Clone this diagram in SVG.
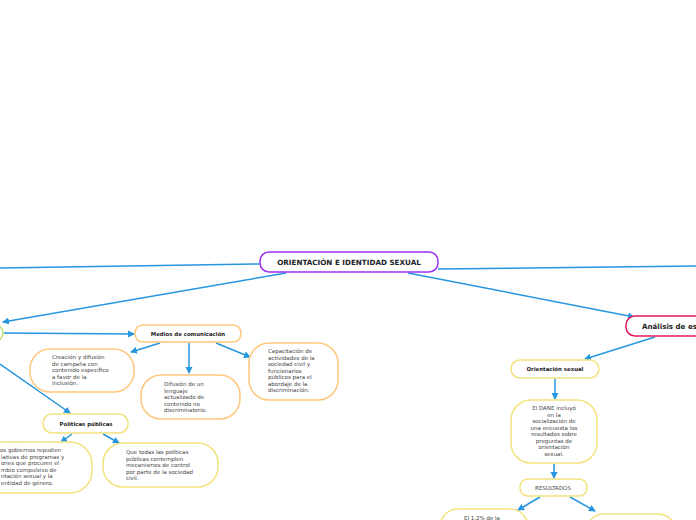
<svg xmlns="http://www.w3.org/2000/svg" width="696" height="520" viewBox="0 0 696 520">
<style>
.n{fill:#fff;stroke-width:1.5}
.pu{stroke:#9b30f2}
.or{stroke:#ffc77e}
.ye{stroke:#f2e27d}
.gr{stroke:#b8e26c}
.pk{stroke:#e3195b}
.t{font-family:"DejaVu Sans",Verdana,sans-serif;font-size:5.5px;fill:#444}
.b{font-family:"DejaVu Sans",Verdana,sans-serif;font-weight:bold;fill:#222}
.c{text-anchor:middle}
.con path{fill:none;stroke:#2596df;stroke-width:1.5}
</style>
<defs>
<marker id="ar" markerUnits="userSpaceOnUse" markerWidth="8" markerHeight="8" refX="6" refY="3.5" orient="auto">
<path d="M0,0 L7,3.5 L0,7 z" fill="#2596df"/>
</marker>
</defs>
<rect width="696" height="520" fill="#fff"/>
<g class="con">
<path d="M260,264 L0,268"/>
<path d="M438,269 L696,266"/>
<path d="M286,273 L3,322" marker-end="url(#ar)"/>
<path d="M408,273 L634,317" marker-end="url(#ar)"/>
<path d="M4,333 L134,334" marker-end="url(#ar)"/>
<path d="M160,343 L131,352" marker-end="url(#ar)"/>
<path d="M189,343 L189,373" marker-end="url(#ar)"/>
<path d="M216,343 L250,357" marker-end="url(#ar)"/>
<path d="M0,364 L70,413" marker-end="url(#ar)"/>
<path d="M72,434 L61,442" marker-end="url(#ar)"/>
<path d="M103,434 L119,443" marker-end="url(#ar)"/>
<path d="M655,337 L585,359" marker-end="url(#ar)"/>
<path d="M555,379 L555,399" marker-end="url(#ar)"/>
<path d="M554,464 L554,478" marker-end="url(#ar)"/>
<path d="M540,497 L518,510" marker-end="url(#ar)"/>
<path d="M570,497 L595,511" marker-end="url(#ar)"/>
</g>
<g id="main">
<rect class="n pu" x="260" y="252" width="178" height="20" rx="9"/>
<text class="b c" x="349" y="265" font-size="7.2">ORIENTACIÓN E IDENTIDAD SEXUAL</text>
</g>
<g id="green">
<rect class="n gr" x="-40" y="325" width="43" height="16" rx="8"/>
</g>
<g id="medios">
<rect class="n or" x="135" y="325" width="106" height="17" rx="8"/>
<text class="b c" x="188" y="336" font-size="5.4">Medios de comunicación</text>
</g>
<g id="creacion">
<rect class="n or" x="30" y="349" width="104" height="43" rx="20"/>
<text class="t" x="52" y="359">Creación y difusión<tspan x="52" dy="6.6">de campaña con</tspan><tspan x="52" dy="6.6">contenido específico</tspan><tspan x="52" dy="6.6">a favor de la</tspan><tspan x="52" dy="6.6">inclusión.</tspan></text>
</g>
<g id="difusion">
<rect class="n or" x="141" y="375" width="99" height="44" rx="20"/>
<text class="t" x="164" y="386">Difusión de un<tspan x="164" dy="6.6">lenguaje</tspan><tspan x="164" dy="6.6">actualizado de</tspan><tspan x="164" dy="6.6">contenido no</tspan><tspan x="164" dy="6.6">discriminatorio.</tspan></text>
</g>
<g id="capacitacion">
<rect class="n or" x="249" y="343" width="89" height="57" rx="20"/>
<text class="t" x="268" y="353">Capacitación de<tspan x="268" dy="6.5">actividades de la</tspan><tspan x="268" dy="6.5">sociedad civil y</tspan><tspan x="268" dy="6.5">funcionarios</tspan><tspan x="268" dy="6.5">públicos para el</tspan><tspan x="268" dy="6.5">abordaje de la</tspan><tspan x="268" dy="6.5">discriminación.</tspan></text>
</g>
<g id="politicas">
<rect class="n ye" x="43" y="414" width="85" height="19" rx="9"/>
<text class="b c" x="86" y="426" font-size="5.4">Políticas públicas</text>
</g>
<g id="gobiernos">
<rect class="n ye" x="-40" y="442" width="132" height="51" rx="22"/>
<text class="t" x="0" y="452">os gobiernos repudien<tspan x="1" dy="6.6">lativas de programas y</tspan><tspan x="1" dy="6.6">ones que procuren el</tspan><tspan x="1" dy="6.6">mbio compulsivo de</tspan><tspan x="1" dy="6.6">ntación sexual y la</tspan><tspan x="1" dy="6.6">entidad de género.</tspan></text>
</g>
<g id="quetodas">
<rect class="n ye" x="103" y="443" width="115" height="44" rx="20"/>
<text class="t" x="126" y="454">Que todas las políticas<tspan x="126" dy="6.5">públicas contemplen</tspan><tspan x="126" dy="6.5">mecanismos de control</tspan><tspan x="126" dy="6.5">por parte de la sociedad</tspan><tspan x="126" dy="6.5">civil.</tspan></text>
</g>
<g id="analisis">
<rect class="n pk" x="626" y="316" width="120" height="20" rx="9"/>
<text class="b" x="642" y="329" font-size="7.1">Análisis de es</text>
</g>
<g id="orientacion">
<rect class="n ye" x="511" y="360" width="88" height="18" rx="9"/>
<text class="b c" x="555" y="371" font-size="5.4">Orientación sexual</text>
</g>
<g id="dane">
<rect class="n ye" x="511" y="400" width="86" height="63" rx="20"/>
<text class="t c" x="554" y="410">El DANE incluyó<tspan x="554" dy="6.5">en la</tspan><tspan x="554" dy="6.5">socialización de</tspan><tspan x="554" dy="6.5">una encuesta los</tspan><tspan x="554" dy="6.5">resultados sobre</tspan><tspan x="554" dy="6.5">preguntas de</tspan><tspan x="554" dy="6.5">orientación</tspan><tspan x="554" dy="6.5">sexual.</tspan></text>
</g>
<g id="resultados">
<rect class="n ye" x="520" y="479" width="67" height="17" rx="8"/>
<text class="t c" x="553" y="490">RESULTADOS</text>
</g>
<g id="porcentaje">
<rect class="n ye" x="440" y="509" width="88" height="40" rx="18"/>
<text class="t c" x="482" y="520">El 1,2% de la</text>
</g>
<g id="otro">
<rect class="n ye" x="586" y="514" width="90" height="40" rx="18"/>
</g>
</svg>
